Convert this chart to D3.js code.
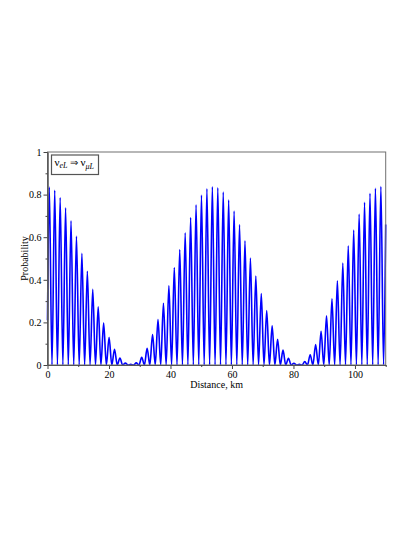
<!DOCTYPE html>
<html>
<head>
<meta charset="utf-8">
<script src="https://cdn.jsdelivr.net/npm/d3@7"></script>
<style>
  body { margin: 0; background: #fff; }
  text { font-family: "Liberation Serif", "Times New Roman", serif; }
</style>
</head>
<body>
<div id="chart"></div>
<script>
////////////////////////////////////////////////////////////////////////
// Data

// oscillation maxima (km, probability)
let peakKm = [0.58, 2.35, 4.12, 5.88, 7.65, 9.42, 11.19, 12.96, 14.72, 16.49,
  18.26, 20.03, 21.80, 23.56, 25.33, 27.10, 28.87, 30.64, 32.40, 34.17,
  35.94, 37.71, 39.48, 41.24, 43.01, 44.78, 46.55, 48.32, 50.08, 51.85,
  53.62, 55.39, 57.16, 58.92, 60.69, 62.46, 64.23, 66.00, 67.76, 69.53,
  71.30, 73.07, 74.84, 76.60, 78.37, 80.14, 81.91, 83.68, 85.44, 87.21,
  88.98, 90.75, 92.52, 94.28, 96.05, 97.82, 99.59, 101.36, 103.12, 104.89,
  106.66, 108.43];
let peakProb = [0.835, 0.820, 0.786, 0.738, 0.677, 0.604, 0.524, 0.440, 0.355, 0.273,
  0.197, 0.130, 0.074, 0.033, 0.009, 0.003, 0.010, 0.036, 0.078, 0.143,
  0.213, 0.290, 0.373, 0.458, 0.542, 0.621, 0.692, 0.752, 0.798, 0.827,
  0.837, 0.832, 0.812, 0.775, 0.723, 0.659, 0.583, 0.502, 0.418, 0.335,
  0.256, 0.184, 0.121, 0.070, 0.032, 0.008, 0.003, 0.016, 0.048, 0.096,
  0.158, 0.231, 0.311, 0.395, 0.479, 0.560, 0.634, 0.709, 0.764, 0.806,
  0.830, 0.838];

// oscillation minima (all at ~0)
let troughKm = [1.46, 3.23, 5.00, 6.76, 8.53, 10.30, 12.07, 13.84, 15.60, 17.37,
  19.14, 20.91, 22.68, 24.44, 26.21, 27.98, 29.75, 31.52, 33.28, 35.05,
  36.82, 38.59, 40.36, 42.12, 43.89, 45.66, 47.43, 49.20, 50.96, 52.73,
  54.50, 56.27, 58.04, 59.80, 61.57, 63.34, 65.11, 66.88, 68.64, 70.41,
  72.18, 73.95, 75.72, 77.48, 79.25, 81.02, 82.79, 84.56, 86.32, 88.09,
  89.86, 91.63, 93.40, 95.16, 96.93, 98.70, 100.47, 102.24, 104.00, 105.77,
  107.54, 109.31];
let troughProb = 0;

// curve values at the plot edges
let startPoint = [0, 0.21];
let endPoint = [110, 0.66];

let xTicks = [0, 20, 40, 60, 80, 100];
let xMinor = [10, 30, 50, 70, 90, 110];
let yTicks = [0, 0.2, 0.4, 0.6, 0.8, 1];
let yMinor = [0.1, 0.3, 0.5, 0.7, 0.9];

////////////////////////////////////////////////////////////////////////
// Layout

let svgW = 415, svgH = 537;
let plotLeft = 47.5, plotRight = 385.7, plotTop = 152, plotBottom = 365;

let xScale = d3.scaleLinear().domain([0, 110]).range([plotLeft, plotRight]);
let yScale = d3.scaleLinear().domain([0, 1]).range([plotBottom, plotTop]);

let svg = d3.select("#chart").append("svg")
  .attr("width", svgW)
  .attr("height", svgH);

svg.append("rect").attr("width", svgW).attr("height", svgH).attr("fill", "#fff");

// build the point list: start, peak, trough, peak, ...
let pts = [startPoint];
peakKm.forEach(function(k, i) {
  pts.push([k, peakProb[i]]);
  pts.push([troughKm[i], troughProb]);
});
pts.push(endPoint);

let line = d3.line()
  .x(function(d) { return xScale(d[0]); })
  .y(function(d) { return yScale(d[1]); })
  .curve(d3.curveMonotoneX);

svg.append("path")
  .datum(pts)
  .attr("d", line)
  .attr("fill", "none")
  .attr("stroke", "#0000ff")
  .attr("stroke-width", 1.6)
  .attr("stroke-linejoin", "round");

// frame
svg.append("rect")
  .attr("x", plotLeft).attr("y", plotTop)
  .attr("width", plotRight - plotLeft).attr("height", plotBottom - plotTop)
  .attr("fill", "none")
  .attr("stroke", "#707070")
  .attr("stroke-width", 1);

////////////////////////////////////////////////////////////////////////
// Axes

function styleAxis(g) {
  g.select(".domain").attr("stroke", "#555");
  g.selectAll(".tick line").attr("stroke", "#444");
  g.selectAll(".tick text")
    .attr("fill", "#000")
    .attr("font-size", 10)
    .attr("font-family", "Liberation Serif, serif");
}

svg.append("g")
  .attr("transform", "translate(0," + plotBottom + ")")
  .call(d3.axisBottom(xScale).tickValues(xTicks).tickSize(4).tickPadding(2).tickSizeOuter(0))
  .call(styleAxis);

svg.append("g")
  .attr("transform", "translate(0," + plotBottom + ")")
  .call(d3.axisBottom(xScale).tickValues(xMinor).tickSize(2).tickFormat("").tickSizeOuter(0))
  .call(styleAxis);

svg.append("g")
  .attr("transform", "translate(" + plotLeft + ",0)")
  .call(d3.axisLeft(yScale).tickValues(yTicks).tickSize(4).tickPadding(2)
    .tickFormat(function(d) { return d === 0 || d === 1 ? d : d3.format(".1f")(d); })
    .tickSizeOuter(0))
  .call(styleAxis);

svg.append("g")
  .attr("transform", "translate(" + plotLeft + ",0)")
  .call(d3.axisLeft(yScale).tickValues(yMinor).tickSize(2).tickFormat("").tickSizeOuter(0))
  .call(styleAxis);

// axis titles
svg.append("text")
  .attr("x", (plotLeft + plotRight) / 2)
  .attr("y", 388)
  .attr("text-anchor", "middle")
  .attr("font-size", 10)
  .text("Distance, km");

svg.append("text")
  .attr("transform", "translate(28," + (plotTop + plotBottom) / 2 + ") rotate(-90)")
  .attr("text-anchor", "middle")
  .attr("font-size", 10)
  .text("Probability");

////////////////////////////////////////////////////////////////////////
// Legend

svg.append("rect")
  .attr("x", 51.5).attr("y", 155)
  .attr("width", 47).attr("height", 19.5)
  .attr("fill", "#fff")
  .attr("stroke", "#555")
  .attr("stroke-width", 1.2);

let lg = svg.append("text")
  .attr("x", 54.5)
  .attr("y", 165.5)
  .attr("font-size", 11);
lg.append("tspan").text("ν");
lg.append("tspan").attr("font-size", 8).attr("font-style", "italic").attr("dy", 2.5).text("eL");
lg.append("tspan").attr("dy", -2.5).attr("font-size", 10).text(" ⇒ ");
lg.append("tspan").text("ν");
lg.append("tspan").attr("font-size", 8).attr("font-style", "italic").attr("dy", 3.5).text("μL");
</script>
</body>
</html>
